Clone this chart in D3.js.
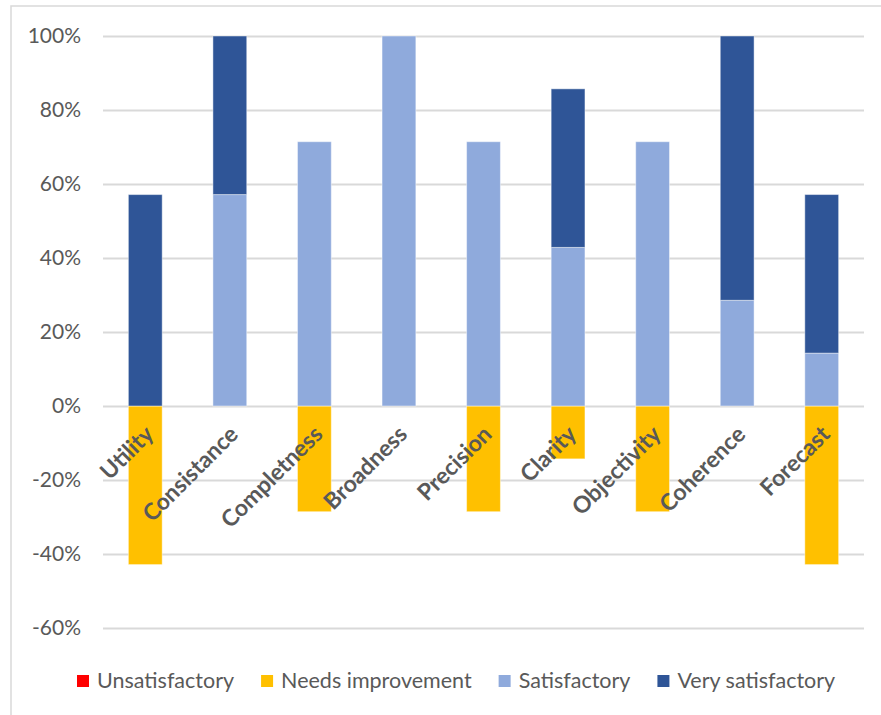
<!DOCTYPE html>
<html>
<head>
<meta charset="utf-8">
<script src="https://cdn.jsdelivr.net/npm/d3@7"></script>
<style>
  body { margin: 0; background: #fff; }
  svg { display: block; }
</style>
</head>
<body>
<div id="wrapper"></div>
<script>
// data (shares of 7 respondents)
const categories = ["Utility", "Consistance", "Completness", "Broadness", "Precision", "Clarity", "Objectivity", "Coherence", "Forecast"];
const unsatisfactory = [0, 0, 0, 0, 0, 0, 0, 0, 0];
const needsImprovement = [-0.4286, 0, -0.2857, 0, -0.2857, -0.1429, -0.2857, 0, -0.4286];
const satisfactory = [0, 0.5714, 0.7143, 1, 0.7143, 0.4286, 0.7143, 0.2857, 0.1429];
const verySatisfactory = [0.5714, 0.4286, 0, 0, 0, 0.4286, 0, 0.7143, 0.4286];
const yTicks = [-0.6, -0.4, -0.2, 0, 0.2, 0.4, 0.6, 0.8, 1];
const seriesNames = ["Unsatisfactory", "Needs improvement", "Satisfactory", "Very satisfactory"];
const seriesColors = ["#ff0000", "#ffc000", "#8faadc", "#2f5597"];

function drawChart() {
  const dimensions = {
    width: 881,
    height: 715,
    margin: { top: 36, right: 17, bottom: 87, left: 103 },
  };
  dimensions.boundedWidth = dimensions.width - dimensions.margin.left - dimensions.margin.right;
  dimensions.boundedHeight = dimensions.height - dimensions.margin.top - dimensions.margin.bottom;

  const wrapper = d3.select("#wrapper")
    .append("svg")
    .attr("width", dimensions.width)
    .attr("height", dimensions.height);

  // chart border (only left and top edges fall inside the picture)
  wrapper.append("path")
    .attr("d", `M11,${dimensions.height} V6 H${dimensions.width}`)
    .attr("fill", "none")
    .attr("stroke", "#d9d9d9")
    .attr("stroke-width", 1.5);

  const bounds = wrapper.append("g")
    .attr("transform", `translate(${dimensions.margin.left},${dimensions.margin.top})`);

  // scales
  const xScale = d3.scaleBand()
    .domain(categories)
    .range([0, dimensions.boundedWidth])
    .paddingInner(0.6)
    .paddingOuter(0.3);

  const yScale = d3.scaleLinear()
    .domain([-0.6, 1])
    .range([dimensions.boundedHeight, 0]);

  // gridlines + y labels
  const yAxisGenerator = d3.axisLeft(yScale)
    .tickValues(yTicks)
    .tickSize(-dimensions.boundedWidth)
    .tickPadding(22)
    .tickFormat(d3.format(".0%"));
  const yAxis = bounds.append("g").call(yAxisGenerator);
  yAxis.select(".domain").remove();
  yAxis.selectAll(".tick line")
    .attr("stroke", "#d9d9d9")
    .attr("stroke-width", 2);
  yAxis.selectAll(".tick text")
    .attr("fill", "#595959")
    .style("font-family", "Lato, sans-serif")
    .style("font-size", "21px")
    .text(d => d3.format(".0%")(Math.round(d * 100) / 100).replace("−", "-"));

  // stacked bars: positives stack up from 0, negatives down from 0
  const series = [unsatisfactory, needsImprovement, satisfactory, verySatisfactory];
  const barData = [];
  categories.forEach((cat, i) => {
    let pos = 0, neg = 0;
    series.forEach((values, s) => {
      const v = values[i];
      if (v === 0) return;
      if (v > 0) {
        barData.push({ cat, s, y0: pos, y1: pos + v });
        pos += v;
      } else {
        barData.push({ cat, s, y0: neg + v, y1: neg });
        neg += v;
      }
    });
  });

  bounds.append("g")
    .selectAll("rect")
    .data(barData)
    .join("rect")
    .attr("x", d => xScale(d.cat))
    .attr("width", xScale.bandwidth())
    .attr("y", d => yScale(d.y1))
    .attr("height", d => yScale(d.y0) - yScale(d.y1))
    .attr("fill", d => seriesColors[d.s])
    .attr("stroke", "#ffffff")
    .attr("stroke-opacity", 0.45)
    .attr("stroke-width", 1);

  // rotated category labels
  bounds.append("g")
    .selectAll("text")
    .data(categories)
    .join("text")
    .attr("transform", d => `translate(${xScale(d) + xScale.bandwidth() / 2 + 4},${yScale(0) + 24}) rotate(-45)`)
    .attr("text-anchor", "end")
    .attr("dy", "0.35em")
    .attr("fill", "#595959")
    .style("font-family", "Lato, sans-serif")
    .style("font-weight", "bold")
    .style("font-size", "23px")
    .text(d => d);

  // legend
  const legend = wrapper.append("g")
    .attr("transform", "translate(77,688)");
  let lx = 0;
  seriesNames.forEach((name, i) => {
    const item = legend.append("g").attr("transform", `translate(${lx},0)`);
    item.append("rect")
      .attr("x", 0)
      .attr("y", -13)
      .attr("width", 12)
      .attr("height", 12)
      .attr("fill", seriesColors[i]);
    const t = item.append("text")
      .attr("x", 20)
      .attr("y", 0)
      .attr("fill", "#595959")
      .style("font-family", "Lato, sans-serif")
      .style("font-size", "21.5px")
      .text(name);
    lx += 20 + t.node().getComputedTextLength() + 27;
  });
}
drawChart();
</script>
</body>
</html>
